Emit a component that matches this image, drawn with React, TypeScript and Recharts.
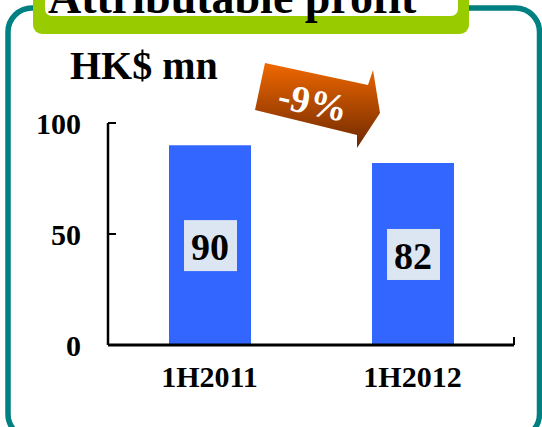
import React from "react";
import { BarChart, Bar, XAxis, YAxis, LabelList } from "recharts";

const periods = ["1H2011", "1H2012"];
const profit = [90, 82];
const yTicks = [0, 50, 100];
const chartTitle = "Attributable profit";
const unitLabel = "HK$ mn";
const changeLabel = "-9%";

const data = periods.map((p, i) => ({ period: p, profit: profit[i] }));
// tick marks sit between categories (Excel style)
const boundaryTicks = [0, ...periods.map((_, i) => i + 1)];

const FONT = '"Liberation Serif", "Times New Roman", serif';

function ValueBox(props: any) {
  const { x, y, width, height, value } = props;
  const cx = Number(x) + Number(width) / 2;
  const cy = Number(y) + Number(height) / 2;
  return (
    <g>
      <rect x={cx - 26} y={cy - 25} width={53} height={51} fill="#dce6f2" />
      <text x={cx} y={cy + 15} textAnchor="middle" fontFamily={FONT} fontWeight="bold" fontSize={38} fill="#000">
        {value}
      </text>
    </g>
  );
}

const NoLabel = () => <g />;

export default function App() {
  const tickFont = { fill: "#000", fontSize: 30, fontWeight: "bold", fontFamily: FONT };
  return (
    <div style={{ position: "absolute", left: 0, top: 0, width: 542, height: 427, background: "#fff", overflow: "hidden" }}>
      <svg width={542} height={427} style={{ position: "absolute", left: 0, top: 0 }}>
        <defs>
          <linearGradient id="arrowGrad" x1="0" y1="0" x2="0" y2="1">
            <stop offset="0%" stopColor="#f06800" />
            <stop offset="100%" stopColor="#6e2800" />
          </linearGradient>
        </defs>
        <rect x={8} y={8} width={531.5} height={430} rx={24} fill="none" stroke="#008080" strokeWidth={5.5} />
        <rect x={33} y={-30} width={436} height={64} rx={9} fill="#99cc00" />
        <rect x={45} y={-30} width={413} height={46} rx={7} fill="#fff" />
        <text x={48} y={13} fontFamily={FONT} fontWeight="bold" fontSize={46} fill="#000">
          {chartTitle}
        </text>
        <text x={70} y={79} fontFamily={FONT} fontWeight="bold" fontSize={40} fill="#000">
          {unitLabel}
        </text>
        <polygon points="265,63 368,85 373,70 380,113 357,148 357,135 255,110" fill="url(#arrowGrad)" />
        <g transform="translate(313 102) rotate(12)">
          <text x={0} y={13} textAnchor="middle" fontFamily={FONT} fontWeight="bold" fontSize={38} fill="#fff">
            {changeLabel}
          </text>
        </g>
      </svg>
      <div style={{ position: "absolute", left: 0, top: 0 }}>
        <BarChart width={542} height={427} data={data} margin={{ top: 123, right: 28, bottom: 41, left: 0 }}>
          <XAxis
            xAxisId="axisA"
            type="number"
            domain={[0, periods.length]}
            ticks={boundaryTicks}
            allowDataOverflow
            height={1}
            axisLine={{ stroke: "#000", strokeWidth: 3 }}
            tick={NoLabel}
            tickSize={-8}
            tickLine={{ stroke: "#000", strokeWidth: 2 }}
          />
          <XAxis
            xAxisId="axisB"
            dataKey="period"
            height={40}
            tickSize={0}
            tickMargin={20}
            axisLine={false}
            tickLine={false}
            interval={0}
            tick={tickFont}
          />
          <YAxis
            domain={[0, 100]}
            ticks={yTicks}
            width={108}
            tickSize={-8}
            tickMargin={35}
            axisLine={{ stroke: "#000", strokeWidth: 2.5 }}
            tickLine={{ stroke: "#000", strokeWidth: 2 }}
            tick={tickFont}
          />
          <Bar xAxisId="axisB" dataKey="profit" fill="#3366ff" barSize={82} isAnimationActive={false}>
            <LabelList dataKey="profit" content={ValueBox} />
          </Bar>
        </BarChart>
      </div>
    </div>
  );
}
